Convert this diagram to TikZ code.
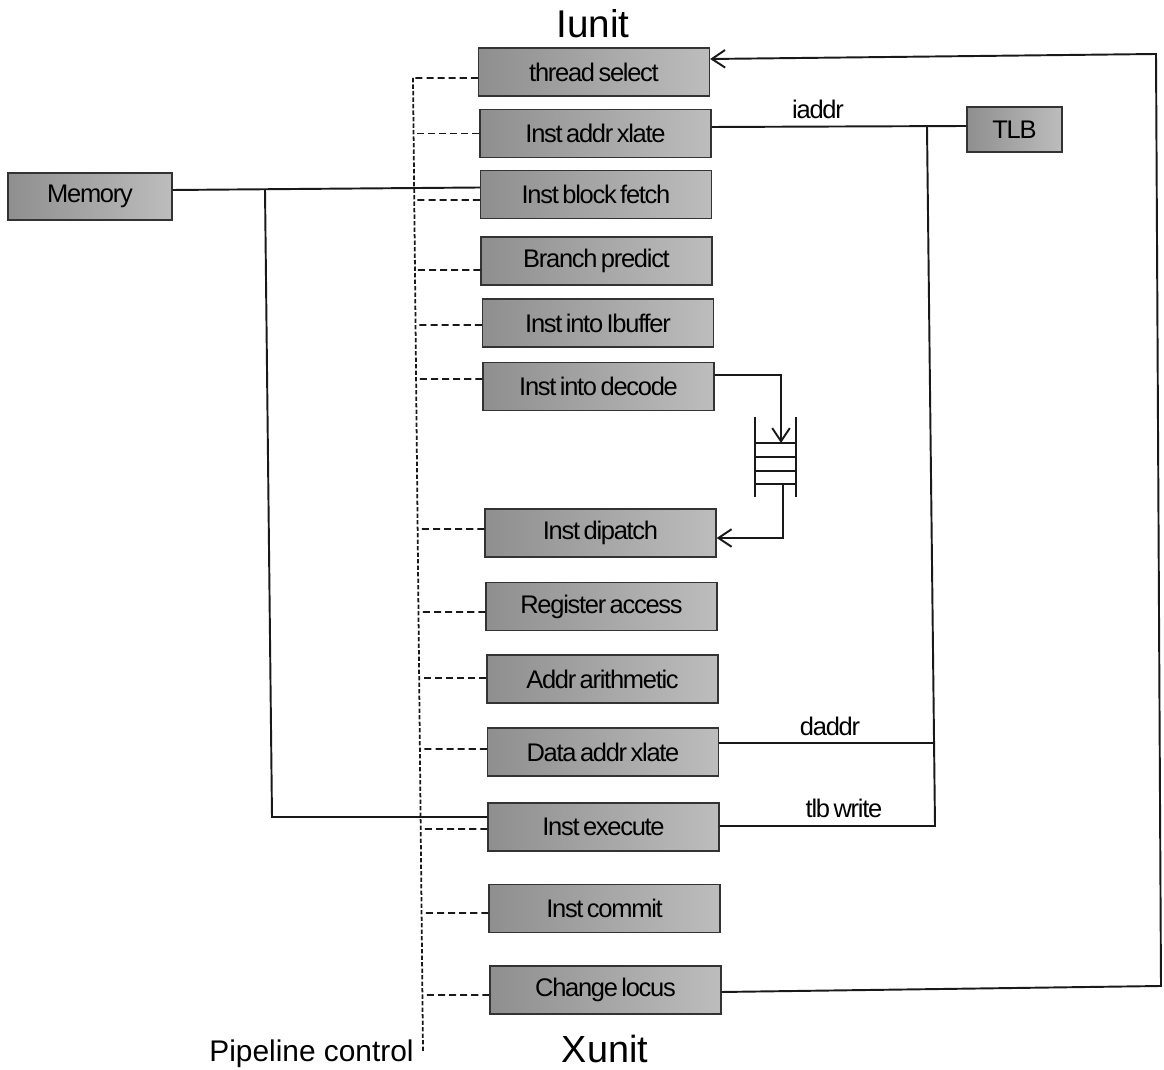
\documentclass[tikz,border=0pt]{standalone}
\usepackage{fontspec}
\setmainfont{Liberation Sans}
\newfontfamily\tightfont{Liberation Sans}[LetterSpace=-5.0, WordSpace=0.6]
\usetikzlibrary{arrows.meta,calc}
\begin{document}
\begin{tikzpicture}[x=0.02cm,y=-0.02cm,
  box/.style={draw=black!80, line width=0.8pt, left color=black!44, right color=black!26,
    inner sep=0pt, font=\tightfont\fontsize{14.5}{16}\selectfont},
  stage/.style={box, minimum width=4.62cm, minimum height=0.96cm},
  wire/.style={draw=black!90, line width=1.1pt},
  ctrl/.style={draw=black!90, line width=1pt, dash pattern=on 4pt off 2.3pt},
  bus/.style={draw=black!90, line width=1pt, dash pattern=on 2.5pt off 1.2pt},
  flow/.style={wire, -{Straight Barb[length=7.5pt,width=10pt]}},
  lbl/.style={font=\tightfont\fontsize{14.5}{16}\selectfont},
  title/.style={font=\fontsize{22}{26}\selectfont, anchor=base},
]
\useasboundingbox (0,0) rectangle (1164,1070);

% pipeline stages
\node[stage] (thread)   at (594,72)    {thread select};
\node[stage] (ixlate)   at (595.5,133.5) {Inst addr xlate};
\node[stage] (fetch)    at (596,194.5) {Inst block fetch};
\node[stage] (branch)   at (596.5,261) {Branch predict};
\node[stage] (ibuf)     at (598,323)   {Inst into Ibuffer};
\node[stage] (decode)   at (598.5,386.5) {Inst into decode};
\node[stage] (dispatch) at (600.5,533) {Inst dipatch};
\node[stage] (regacc)   at (601.5,606.5) {Register access};
\node[stage] (arith)    at (602.5,679) {Addr arithmetic};
\node[stage] (dxlate)   at (603,752)   {Data addr xlate};
\node[stage] (exec)     at (603.5,827) {Inst execute};
\node[stage] (commit)   at (604.5,908.5) {Inst commit};
\node[stage] (locus)    at (605.5,990) {Change locus};

% other units
\node[box, minimum width=3.28cm, minimum height=0.94cm] (mem) at (90,196.5) {Memory};
\node[box, minimum width=1.9cm, minimum height=0.9cm] (tlb) at (1014.5,129.5) {TLB};

% titles
\node[title] (iunit) at (593,38) {Iunit};
\node[title, font=\fontsize{21.5}{26}\selectfont] (xunit) at (605,1063) {Xunit};
\node[anchor=base, font=\fontsize{17}{20}\selectfont] (pctl) at (311.5,1062) {Pipeline control};

% pipeline control bus
\coordinate (b1)  at (413,78);
\coordinate (b2)  at (413.6,133.5);
\coordinate (b3)  at (414.2,200);
\coordinate (b4)  at (415,270);
\coordinate (b5)  at (415.5,325);
\coordinate (b6)  at (416.1,379);
\coordinate (b7)  at (417.6,529);
\coordinate (b8)  at (418.5,612);
\coordinate (b9)  at (419.1,678);
\coordinate (b10) at (419.9,749);
\coordinate (b11) at (420.7,829);
\coordinate (b12) at (421.5,913);
\coordinate (b13) at (422.4,995);
\coordinate (bend) at (423,1052);
\draw[bus] (b1) -- (bend);
\draw[ctrl] ([yshift=-0.12cm]thread.west) -- (b1);
\draw[ctrl] (ixlate.west) -- (b2);
\draw[ctrl] ([yshift=-0.11cm]fetch.west) -- (b3);
\draw[ctrl] ([yshift=-0.18cm]branch.west) -- (b4);
\draw[ctrl] ([yshift=-0.04cm]ibuf.west) -- (b5);
\draw[ctrl] ([yshift=0.15cm]decode.west) -- (b6);
\draw[ctrl] ([yshift=0.08cm]dispatch.west) -- (b7);
\draw[ctrl] ([yshift=-0.11cm]regacc.west) -- (b8);
\draw[ctrl] ([yshift=0.02cm]arith.west) -- (b9);
\draw[ctrl] ([yshift=0.06cm]dxlate.west) -- (b10);
\draw[ctrl] ([yshift=-0.04cm]exec.west) -- (b11);
\draw[ctrl] ([yshift=-0.09cm]commit.west) -- (b12);
\draw[ctrl] ([yshift=-0.1cm]locus.west) -- (b13);

% memory connections
\coordinate (mj) at (265,189.2);
\coordinate (mk) at (272,817);
\draw[wire] ([yshift=0.13cm]mem.east) -- ([yshift=0.14cm]fetch.west);
\draw[wire] (mj) -- (mk) -- ([yshift=0.2cm]exec.west);

% TLB connections
\coordinate (rt) at (927,126.5);
\coordinate (rm) at (934,743);
\coordinate (rb) at (935,826);
\draw[wire] ([yshift=0.13cm]ixlate.east) -- ([yshift=0.07cm]tlb.west);
\draw[wire] (rt) -- (rb) -- ([yshift=0.02cm]exec.east);
\draw[wire] ([yshift=0.18cm]dxlate.east) -- (rm);
\node[lbl] (iaddr) at (818,109) {iaddr};
\node[lbl] (daddr) at (830,726) {daddr};
\node[lbl] (tlbw)  at (844,808) {tlb write};

% instruction queue between decode and dispatch
\coordinate (qin)  at (781,443);
\coordinate (qout) at (783,484);
\draw[wire] (755,417) -- (755,497) (796,417) -- (796,497);
\foreach \qy in {443,457,471,484} \draw[wire] (755,\qy) -- (796,\qy);
\draw[flow] ([yshift=0.23cm]decode.east) -- (781,375) -- (qin);
\draw[flow] (qout) -- (783,538) -- ([yshift=-0.1cm]dispatch.east);

% locus change feeds back to thread select
\coordinate (fr1) at (1161,986);
\coordinate (fr2) at (1156,54);
\draw[flow] ([yshift=-0.04cm]locus.east) -- (fr1) -- (fr2) -- ([yshift=0.26cm]thread.east);
\end{tikzpicture}
\end{document}
